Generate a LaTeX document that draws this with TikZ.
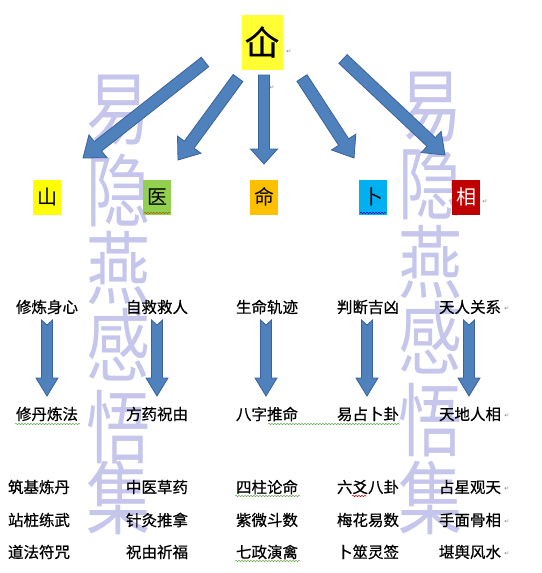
\documentclass[tikz,border=0pt]{standalone}
\usepackage{fontspec}
\newfontfamily\cjk{Noto Sans CJK SC}
\newfontfamily\cjkb[FakeBold=0.6]{Noto Sans CJK SC}
\newfontfamily\symf{DejaVu Sans}
\usetikzlibrary{calc,decorations.pathmorphing}
\definecolor{arrfill}{HTML}{4F81BD}
\definecolor{arrline}{HTML}{3A629A}
\definecolor{wmcol}{HTML}{C6C6EC}
\definecolor{cyel}{HTML}{FFFF00}
\definecolor{topyel}{HTML}{FFFF33}
\definecolor{cgreen}{HTML}{92D050}
\definecolor{corange}{HTML}{FFC000}
\definecolor{cblue}{HTML}{00B0F0}
\definecolor{cred}{HTML}{C00000}
\definecolor{wavgreen}{HTML}{6AA84F}
\newcommand\myblockarrow[6]{%
  \coordinate (ha) at ($(#2)!#5!(#1)$);
  \filldraw[blockarrow] ($(#1)!#3!90:(#2)$) -- ($(ha)!#3!90:(#2)$) -- ($(ha)!#4!90:(#2)$) -- (#2)
    -- ($(ha)!#4!-90:(#2)$) -- ($(ha)!#3!-90:(#2)$) -- ($(#1)!#3!-90:(#2)$) -- ($(#1)!#6!(#2)$) -- cycle;}
\tikzset{
  blockarrow/.style={fill=arrfill, draw=arrline, line width=0.8pt, line join=miter},
  catbox/.style={font=\cjk\fontsize{20}{22}\selectfont, minimum width=28pt, minimum height=35pt, inner sep=0pt},
  lbl/.style={font=\cjkb\fontsize{15.5}{16}\selectfont, inner sep=0pt},
  wmk/.style={font=\cjk\fontsize{80}{80}\selectfont, text=wmcol, inner sep=0pt, xscale=0.8},
  ret/.style={font=\symf\fontsize{6}{6}\selectfont, text=gray, inner sep=0pt},
  wavy/.style={decorate, decoration={snake, amplitude=0.7pt, segment length=3pt}, line width=0.5pt}
}
\begin{document}
\begin{tikzpicture}[x=1pt,y=-1pt]
\fill[white] (0,0) rectangle (541,573);
\useasboundingbox (0,0) rectangle (541,573);
% watermark
\foreach \c/\yy [count=\i] in {易/110,隐/190,燕/268,感/345,悟/427,集/498}
  \node[wmk] (wl\i) at (118,\yy) {\c};
\foreach \c/\yy [count=\i] in {易/107,隐/183,燕/262,感/338,悟/420,集/498}
  \node[wmk] (wr\i) at (430,\yy) {\c};
% top
\node[fill=topyel, minimum width=41pt, minimum height=55pt, inner sep=0pt, font=\cjkb\fontsize{34}{36}\selectfont] (top) at (262,42) {仚};
\node[ret] (rt) at (289,52) {↵};
% categories
\node[catbox, fill=cyel] (shan) at (47,197) {山};
\node[catbox, fill=cgreen] (yi) at (157,197) {医};
\node[catbox, fill=corange] (ming) at (264,197) {命};
\node[catbox, fill=cblue] (bu) at (373,197) {卜};
\node[catbox, fill=cred, text=white] (xiang) at (466,197) {相};
\node[ret] (rx) at (485,202) {↵};
\draw[wavy, draw=orange!70!black] (144,213) -- (170,213);
\draw[wavy, draw=blue!70!black] (360,213) -- (386,213);
% big arrows
\coordinate (a1s) at (205,62);  \coordinate (a1e) at (83,158);
\coordinate (a2s) at (238,78);  \coordinate (a2e) at (178,160);
\coordinate (a3s) at (264,75);  \coordinate (a3e) at (264,164);
\coordinate (a4s) at (302,78);  \coordinate (a4e) at (354,158);
\coordinate (a5s) at (343,59);  \coordinate (a5e) at (445,155);
\myblockarrow{a1s}{a1e}{6pt}{14.5pt}{19pt}{0pt}
\myblockarrow{a2s}{a2e}{6pt}{14.5pt}{19pt}{0pt}
\myblockarrow{a3s}{a3e}{5.5pt}{13.5pt}{15pt}{0pt}
\myblockarrow{a4s}{a4e}{6pt}{14.5pt}{19pt}{0pt}
\myblockarrow{a5s}{a5e}{6pt}{14.5pt}{19pt}{0pt}
\node[ret] (ra) at (272,88) {↵};
% row 2
\node[lbl] (m1) at (47,307) {修炼身心};
\node[lbl] (m2) at (157,307) {自救救人};
\node[lbl] (m3) at (267,307) {生命轨迹};
\node[lbl] (m4) at (368,307) {判断吉凶};
\node[lbl] (m5) at (470,307) {天人关系};
\node[ret] (rm5) at (507,309) {↵};
% small arrows
\foreach \xx [count=\i] in {47,157,266,367,469} {
  \coordinate (s\i s) at (\xx,320);
  \coordinate (s\i e) at (\xx,396);
  \myblockarrow{s\i s}{s\i e}{5.5pt}{11pt}{18pt}{5pt}
}
% row 3
\node[lbl] (n1) at (47,414) {修丹炼法};
\node[lbl] (n2) at (157,414) {方药祝由};
\node[lbl] (n3) at (267,414) {八字推命};
\node[lbl] (n4) at (368,414) {易占卜卦};
\node[lbl] (n5) at (470,414) {天地人相};
\node[ret] (rn5) at (507,416) {↵};
\draw[wavy, draw=wavgreen] (15,424) -- (80,424);
\draw[wavy, draw=wavgreen] (268,424) -- (400,424);
% rows 4-6
\node[lbl] (p1) at (39,487) {筑基炼丹};
\node[lbl] (p2) at (157,487) {中医草药};
\node[lbl] (p3) at (267,487) {四柱论命};
\node[lbl] (p4) at (368,487) {六爻八卦};
\node[lbl] (p5) at (470,487) {占星观天};
\node[ret] (rp5) at (507,489) {↵};
\node[lbl] (q1) at (39,520) {站桩练武};
\node[lbl] (q2) at (157,520) {针灸推拿};
\node[lbl] (q3) at (267,520) {紫微斗数};
\node[lbl] (q4) at (368,520) {梅花易数};
\node[lbl] (q5) at (470,520) {手面骨相};
\node[ret] (rq5) at (507,522) {↵};
\node[lbl] (u1) at (39,552) {道法符咒};
\node[lbl] (u2) at (157,552) {祝由祈福};
\node[lbl] (u3) at (267,552) {七政演禽};
\node[lbl] (u4) at (368,552) {卜筮灵签};
\node[lbl] (u5) at (470,552) {堪舆风水};
\node[ret] (ru5) at (507,554) {↵};
\draw[wavy, draw=wavgreen] (235,496) -- (300,496);
\draw[wavy, draw=red!80!black] (352,496) -- (366,496);
\draw[wavy, draw=wavgreen] (235,561) -- (300,561);
\end{tikzpicture}
\end{document}
